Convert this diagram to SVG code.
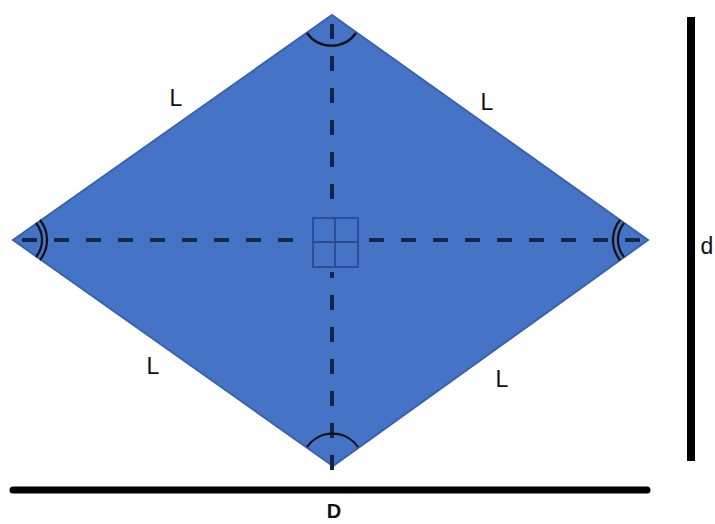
<svg xmlns="http://www.w3.org/2000/svg" width="715" height="524" viewBox="0 0 715 524">
<style>
.lbl{font-family:"Liberation Sans",Arial,sans-serif;font-size:23px;fill:#111;text-anchor:middle}
.dash{stroke:#15254a;stroke-width:4;stroke-dasharray:15 17;fill:none}
.arc{stroke:#111;stroke-width:2.2;fill:none}
.bar{stroke:#000;stroke-linecap:round}
</style>
<rect width="715" height="524" fill="#fff"/>
<g id="rhombus">
<polygon points="332,15 648,240 333,466 13,240" fill="#4573c6" stroke="#3a62ad" stroke-width="2"/>
</g>
<g id="connectors">
<line class="dash" x1="22" y1="240" x2="306" y2="240"/>
<line class="dash" x1="640" y1="240" x2="360" y2="240"/>
<line class="dash" x1="332" y1="24" x2="332" y2="212"/>
<line class="dash" x1="332" y1="470" x2="332" y2="272"/>
</g>
<g id="right-angle">
<rect x="313" y="218" width="45" height="49" fill="none" stroke="#2c4c8e" stroke-width="1.8"/>
<line x1="335" y1="218" x2="335" y2="267" stroke="#2c4c8e" stroke-width="1.8"/>
<line x1="313" y1="242" x2="358" y2="242" stroke="#2c4c8e" stroke-width="1.8"/>
</g>
<g id="angles">
<path class="arc" d="M 307 33 A 30 30 0 0 0 356 33"/>
<path class="arc" d="M 307 447 A 31 31 0 0 1 358 447"/>
<path class="arc" d="M 36 223 A 27 27 0 0 1 36 257"/>
<path class="arc" d="M 40 220 A 32 32 0 0 1 40 260"/>
<path class="arc" d="M 624 223 A 27 27 0 0 0 624 257"/>
<path class="arc" d="M 620 220 A 32 32 0 0 0 620 260"/>
</g>
<g id="labels">
<text class="lbl" x="176" y="106">L</text>
<text class="lbl" x="487" y="110">L</text>
<text class="lbl" x="153" y="374">L</text>
<text class="lbl" x="502" y="387">L</text>
</g>
<g id="dim-d">
<line class="bar" x1="691" y1="17" x2="691" y2="461" stroke-width="8" style="stroke-linecap:butt"/>
<text class="lbl" x="707" y="254">d</text>
</g>
<g id="dim-D">
<line class="bar" x1="13" y1="490" x2="647" y2="490" stroke-width="7"/>
<text class="lbl" x="334" y="518" style="font-weight:bold;font-size:20px">D</text>
</g>
</svg>
